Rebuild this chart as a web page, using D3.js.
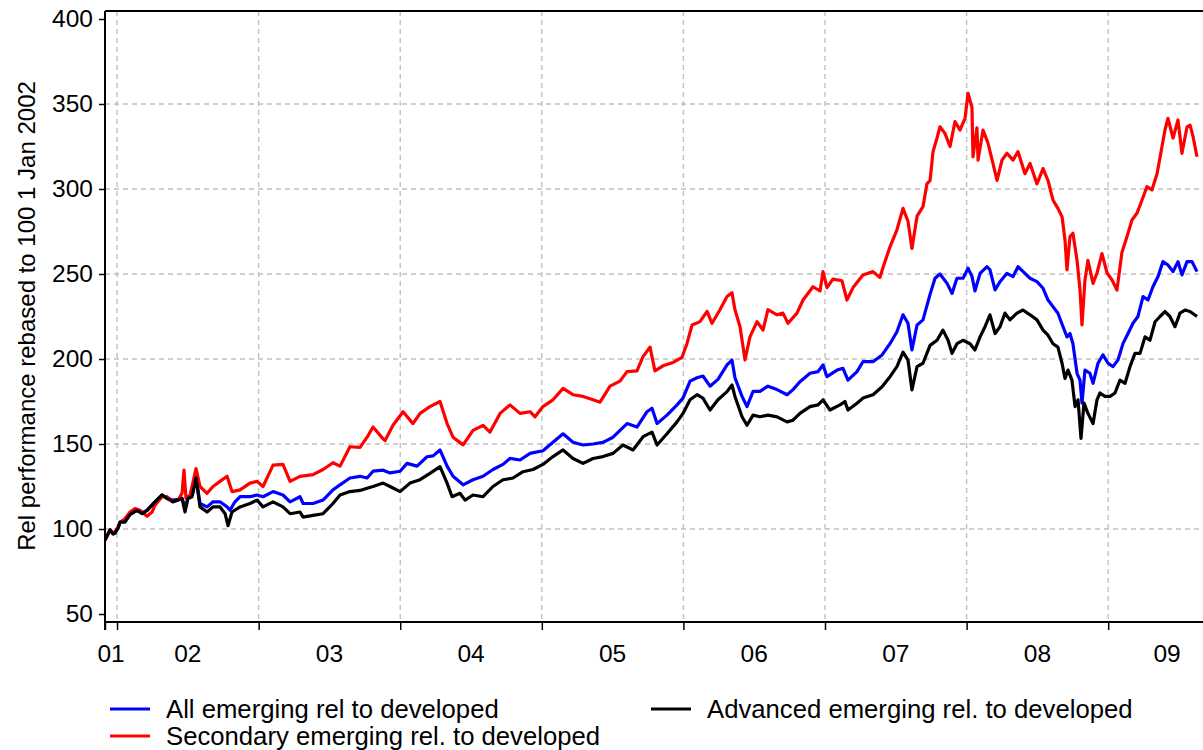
<!DOCTYPE html>
<html>
<head>
<meta charset="utf-8">
<script src="https://cdn.jsdelivr.net/npm/d3@7"></script>
<style>
  html, body { margin: 0; padding: 0; background: #fff; }
  svg { display: block; font-family: Arial, "Liberation Sans", Helvetica, sans-serif; }
</style>
</head>
<body>
<svg id="chart" width="1203" height="750"></svg>
<script>
// ---------------- DATA (decimal years, index values) ----------------
const seriesNames = ["All emerging rel to developed", "Secondary emerging rel. to developed", "Advanced emerging rel. to developed"];
const seriesColors = ["#0000ff", "#ff0000", "#000000"];

const allDates = [2001.915,2001.936,2001.951,2001.972,2001.986,2002.007,2002.021,2002.056,2002.092,2002.141,2002.177,2002.212,2002.268,2002.318,2002.353,2002.395,2002.431,2002.459,2002.480,2002.501,2002.530,2002.558,2002.586,2002.636,2002.678,2002.727,2002.777,2002.798,2002.833,2002.869,2002.939,2002.989,2003.031,2003.102,2003.172,2003.222,2003.292,2003.314,2003.384,2003.455,2003.525,2003.575,2003.645,2003.716,2003.766,2003.808,2003.879,2003.928,2003.999,2004.048,2004.119,2004.189,2004.232,2004.281,2004.331,2004.373,2004.444,2004.514,2004.585,2004.655,2004.726,2004.775,2004.846,2004.917,2005.008,2005.079,2005.150,2005.220,2005.291,2005.362,2005.432,2005.503,2005.602,2005.672,2005.743,2005.778,2005.814,2005.884,2005.955,2005.997,2006.047,2006.096,2006.138,2006.188,2006.244,2006.308,2006.343,2006.364,2006.414,2006.449,2006.492,2006.541,2006.597,2006.661,2006.732,2006.774,2006.823,2006.894,2006.951,2006.986,2007.014,2007.085,2007.127,2007.162,2007.226,2007.268,2007.339,2007.403,2007.459,2007.508,2007.551,2007.586,2007.614,2007.650,2007.692,2007.742,2007.777,2007.812,2007.862,2007.897,2007.932,2007.975,2008.010,2008.038,2008.059,2008.095,2008.144,2008.165,2008.201,2008.236,2008.285,2008.328,2008.363,2008.412,2008.448,2008.497,2008.540,2008.575,2008.610,2008.645,2008.681,2008.709,2008.730,2008.751,2008.780,2008.801,2008.815,2008.836,2008.871,2008.893,2008.928,2008.963,2008.999,2009.034,2009.069,2009.105,2009.140,2009.175,2009.210,2009.246,2009.281,2009.316,2009.352,2009.387,2009.422,2009.458,2009.493,2009.521,2009.557,2009.592,2009.627];
const allValues = [93.5,97,99.6,97.5,98,100.5,104,104.5,109,111,109.5,111,116,120,118,117,117.5,118,113,118,120,131,115,113,116,116,113,111,116,119,119,120,119,122,120,116,119,115,115,117,123,126,130,131,130,134,134.6,133,134,138.6,137,142.5,143,146.5,137,131,126,129,131,135,138,141.5,140.6,144.5,146,151,156,151,149.4,150,151,154,162,160,169,171,162,167,173,177,187,189,190,184,188,196.5,199.4,189,178,172,181,181,184,182,179,182,186.6,191.6,192.6,196.5,189.6,193.5,194.5,187.6,192.6,198.4,198.4,202.4,209,216,226,221,205.3,220,223,238,247.5,250,244.5,238.6,247.5,247.5,253.4,248.6,240,250.4,254.3,252.5,240.6,245.5,250.4,248.5,254.3,250.4,247.5,245.5,241.6,234.7,230.8,226.9,219,213,215,209,191.6,187.6,174,193.5,191.6,185.7,197.5,202.4,197.5,195.5,199.4,209.2,215,221,225,236.7,234.7,242.5,248.5,257.3,255.3,251.4,257.3,249.5,257.3,257.3,251.4];

const secDates = [2001.915,2001.936,2001.951,2001.972,2001.986,2002.007,2002.021,2002.056,2002.092,2002.127,2002.162,2002.212,2002.247,2002.268,2002.318,2002.353,2002.395,2002.431,2002.459,2002.473,2002.487,2002.516,2002.558,2002.586,2002.636,2002.678,2002.727,2002.777,2002.812,2002.869,2002.939,2002.989,2003.031,2003.102,2003.172,2003.222,2003.292,2003.384,2003.455,2003.525,2003.575,2003.645,2003.716,2003.766,2003.808,2003.879,2003.893,2003.949,2004.020,2004.090,2004.140,2004.210,2004.281,2004.331,2004.373,2004.444,2004.514,2004.585,2004.634,2004.705,2004.775,2004.846,2004.917,2004.952,2005.008,2005.079,2005.150,2005.220,2005.291,2005.362,2005.411,2005.482,2005.552,2005.602,2005.672,2005.715,2005.764,2005.799,2005.856,2005.927,2005.990,2006.025,2006.061,2006.117,2006.167,2006.202,2006.258,2006.308,2006.343,2006.364,2006.400,2006.435,2006.470,2006.520,2006.562,2006.597,2006.661,2006.703,2006.739,2006.802,2006.845,2006.915,2006.965,2006.986,2007.014,2007.056,2007.120,2007.155,2007.198,2007.268,2007.339,2007.388,2007.410,2007.459,2007.508,2007.551,2007.586,2007.614,2007.650,2007.692,2007.720,2007.742,2007.763,2007.791,2007.812,2007.847,2007.883,2007.918,2007.953,2007.989,2008.010,2008.038,2008.045,2008.073,2008.081,2008.116,2008.151,2008.186,2008.215,2008.250,2008.285,2008.328,2008.363,2008.412,2008.448,2008.497,2008.540,2008.575,2008.610,2008.645,2008.674,2008.695,2008.709,2008.730,2008.751,2008.780,2008.801,2008.815,2008.836,2008.857,2008.893,2008.921,2008.956,2008.992,2009.027,2009.062,2009.097,2009.133,2009.168,2009.203,2009.239,2009.274,2009.309,2009.345,2009.380,2009.401,2009.422,2009.458,2009.493,2009.521,2009.557,2009.578,2009.599,2009.627];
const secValues = [93.5,97,99.5,97.5,98.5,101,104,106,110,112,111,107.5,110,114,119,119,116,117,121,134.7,118,120,135.5,125,121,125,128,131,122,123,127,128,125,137.6,138,128,131,132,135,139,137,148.4,148,154,160,153,152,161,169,162,168,172,175,162,154,149.5,158,161,157,168,173,168,169,166,172,176,182.7,179,178,176,174.6,184,187,192.6,193,201.4,207,193,196,198,201,209,220,222,228,221,229,236.7,239,229,219,199.4,213,222,217,229,226,227,221,227,234.7,242.5,240,251.4,242,247,246,234.7,242,249.4,251.4,248,254,266,276,288.6,281,265,284,289.6,303,305,322,330,336.6,332.7,325,339.6,334.7,341.6,356.3,348,319,336,317,334.7,327,315,305,317,321,317,322,309,315,303,312,305,293.5,288.6,283.7,270,252.4,272,274,258,240.6,220,246.5,258,244.5,250.6,262,250.6,246.5,240.6,262.7,272,281.8,285.7,293.5,301.4,299.4,309,325,334.7,341.6,330,340.6,321,336.6,337.6,331,319];

const advDates = [2001.915,2001.936,2001.951,2001.972,2001.986,2002.007,2002.021,2002.056,2002.092,2002.141,2002.177,2002.212,2002.268,2002.318,2002.353,2002.395,2002.431,2002.459,2002.480,2002.501,2002.530,2002.558,2002.586,2002.636,2002.678,2002.727,2002.763,2002.784,2002.812,2002.869,2002.939,2002.989,2003.031,2003.102,2003.172,2003.222,2003.292,2003.314,2003.384,2003.455,2003.525,2003.575,2003.645,2003.716,2003.766,2003.808,2003.879,2003.928,2003.999,2004.069,2004.140,2004.210,2004.281,2004.331,2004.366,2004.422,2004.458,2004.514,2004.585,2004.655,2004.726,2004.797,2004.867,2004.938,2005.008,2005.079,2005.150,2005.220,2005.291,2005.362,2005.432,2005.503,2005.573,2005.644,2005.715,2005.778,2005.814,2005.884,2005.955,2005.997,2006.047,2006.096,2006.138,2006.188,2006.244,2006.308,2006.343,2006.364,2006.414,2006.449,2006.492,2006.541,2006.597,2006.661,2006.732,2006.774,2006.823,2006.894,2006.951,2006.986,2007.035,2007.106,2007.141,2007.162,2007.226,2007.268,2007.339,2007.403,2007.459,2007.508,2007.551,2007.586,2007.614,2007.650,2007.692,2007.742,2007.791,2007.833,2007.869,2007.897,2007.932,2007.975,2008.024,2008.059,2008.095,2008.130,2008.165,2008.201,2008.236,2008.271,2008.306,2008.356,2008.398,2008.448,2008.497,2008.540,2008.575,2008.610,2008.645,2008.674,2008.695,2008.716,2008.744,2008.766,2008.787,2008.808,2008.829,2008.857,2008.893,2008.921,2008.942,2008.977,2009.013,2009.048,2009.083,2009.119,2009.154,2009.189,2009.225,2009.260,2009.295,2009.331,2009.366,2009.401,2009.436,2009.472,2009.507,2009.542,2009.578,2009.627];
const advValues = [93.5,97,99.4,97,97.5,100.5,104,104,108.5,111,109,111,116,120,118,116,117,118,110,118,119,130,113,110,113,113,109,102,110,113,115,117,113,116,113,109,110,107,108,109,115,120,122,122.7,124,125,127,125,122,127,129,132.7,136.7,127,119,121,117,120,119,125,129,130,133.7,135,138,142.6,146.5,141.5,138.6,141.5,142.6,144.5,149.4,146.5,154.3,157,149.4,156,163,168,176,179,177,170,176,180.8,184.7,178,166,161,167,166,167,166,163,164,168,172,173,176,170,173,175,170,174,177,179,183.7,189.6,195.5,204,199.4,181.8,195.5,197.5,208,211,217,211,203.3,209,211,209,205.3,213,219,226,215,219,227,223,227,228.8,226,223,217,214,209,207,197.5,188.6,193.5,187.6,172,176,153.3,174,168,162,176,180,178,178,180,187.6,185.7,195.5,203.3,203.3,213,211,221.9,225,227.9,225,219,227,228.8,227.9,225];

const yTicks = [50, 100, 150, 200, 250, 300, 350, 400];
const yGrid = [100, 150, 200, 250, 300, 350];
const yearBoundaries = [2002, 2003, 2004, 2005, 2006, 2007, 2008, 2009];
const xLabels = ["01", "02", "03", "04", "05", "06", "07", "08", "09"];
const yTitle = "Rel performance rebased to 100 1 Jan 2002";

// ---------------- LAYOUT ----------------
const W = 1203, H = 750;
const plot = { left: 105, top: 11, bottom: 622, rightRange: 1226 };
const xDomain = [2001.915, 2009.832];

const svg = d3.select("#chart");
const x = d3.scaleLinear().domain(xDomain).range([plot.left, plot.rightRange]);
const y = d3.scaleLinear().domain([45.3, 404.7]).range([plot.bottom, plot.top]);

svg.append("rect").attr("width", W).attr("height", H).attr("fill", "#fff");

svg.append("defs").append("clipPath").attr("id", "clip")
  .append("rect").attr("x", plot.left).attr("y", plot.top)
  .attr("width", W - plot.left).attr("height", plot.bottom - plot.top);

// Gridlines
const grid = svg.append("g").attr("stroke", "#c0c0c0").attr("stroke-width", 1.4).attr("stroke-dasharray", "5,4");
grid.selectAll("line.h").data(yGrid).join("line")
  .attr("x1", plot.left).attr("x2", W).attr("y1", d => y(d)).attr("y2", d => y(d));
grid.selectAll("line.v").data(yearBoundaries).join("line")
  .attr("x1", d => x(d)).attr("x2", d => x(d)).attr("y1", plot.top).attr("y2", plot.bottom);

// Series lines
const series = [
  { dates: allDates, values: allValues, color: seriesColors[0] },
  { dates: secDates, values: secValues, color: seriesColors[1] },
  { dates: advDates, values: advValues, color: seriesColors[2] }
];
const line = d3.line().x(d => x(d[0])).y(d => y(d[1]));
const lines = svg.append("g").attr("clip-path", "url(#clip)");
series.forEach(s => {
  const pts = s.dates.map((d, i) => [d, s.values[i]]);
  lines.append("path").datum(pts)
    .attr("fill", "none").attr("stroke", s.color).attr("stroke-width", 3.2)
    .attr("stroke-linejoin", "round").attr("d", line);
});

// Frame (top)
svg.append("line").attr("x1", plot.left).attr("x2", W).attr("y1", plot.top).attr("y2", plot.top)
  .attr("stroke", "#000").attr("stroke-width", 2);

// Y axis
const yAxis = d3.axisLeft(y).tickValues(yTicks).tickSize(6).tickPadding(6).tickFormat(d3.format("d"));
const gy = svg.append("g").attr("transform", `translate(${plot.left},0)`).call(yAxis);
gy.select(".domain").attr("d", `M0,${plot.top}V${plot.bottom + 8}`).attr("stroke-width", 2);
gy.selectAll(".tick line").attr("stroke-width", 1.5);
gy.selectAll("text").attr("font-size", 24.5).attr("fill", "#000")
  .attr("font-family", "Arial, 'Liberation Sans', sans-serif");

// X axis
const xTickVals = [xDomain[0]].concat(yearBoundaries);
const xAxis = d3.axisBottom(x).tickValues(xTickVals).tickSize(8).tickFormat("");
const gx = svg.append("g").attr("transform", `translate(0,${plot.bottom})`).call(xAxis);
gx.select(".domain").attr("d", `M${plot.left},0H${W}`).attr("stroke-width", 2);
gx.selectAll(".tick line").attr("stroke-width", 1.5);

const bounds = [xDomain[0]].concat(yearBoundaries, [xDomain[1]]);
svg.append("g").selectAll("text").data(xLabels).join("text")
  .attr("x", (d, i) => x((bounds[i] + bounds[i + 1]) / 2))
  .attr("y", 662)
  .attr("text-anchor", "middle")
  .attr("font-size", 24.5)
  .text(d => d);

// Y title
svg.append("text")
  .attr("transform", "translate(35,316) rotate(-90)")
  .attr("text-anchor", "middle")
  .attr("font-size", 24)
  .text(yTitle);

// Legend
const legendItems = [
  { name: seriesNames[0], color: seriesColors[0], lx: 110, ly: 709 },
  { name: seriesNames[1], color: seriesColors[1], lx: 110, ly: 736 },
  { name: seriesNames[2], color: seriesColors[2], lx: 651, ly: 709 }
];
const lg = svg.append("g");
legendItems.forEach(it => {
  lg.append("line").attr("x1", it.lx).attr("x2", it.lx + 40).attr("y1", it.ly).attr("y2", it.ly)
    .attr("stroke", it.color).attr("stroke-width", 3);
  lg.append("text").attr("x", it.lx + 56).attr("y", it.ly + 8.5)
    .attr("font-size", 25.7).text(it.name);
});
</script>
</body>
</html>
